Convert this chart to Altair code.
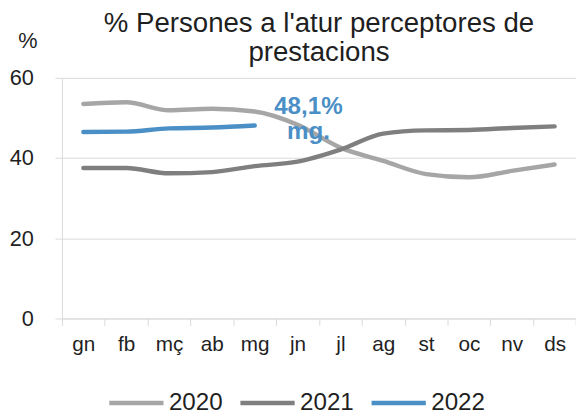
import altair as alt
import pandas as pd

months = ["gn", "fb", "mç", "ab", "mg", "jn", "jl", "ag", "st", "oc", "nv", "ds"]
years = ["2020", "2021", "2022"]
v2020 = [53.5, 53.9, 51.9, 52.3, 51.6, 48.3, 42.6, 39.3, 36.0, 35.2, 36.8, 38.4]
v2021 = [37.5, 37.5, 36.2, 36.5, 38.0, 39.1, 42.1, 46.1, 46.9, 47.0, 47.5, 47.9]
v2022 = [46.5, 46.6, 47.4, 47.6, 48.1]
y_ticks = [0, 20, 40, 60]
title_lines = ["% Persones a l'atur  perceptores de", "prestacions"]
note_lines = ["48,1%", "mg."]
note_month = ["jn"]
note_value = [50.9]

colors = ["#A6A6A6", "#7F7F7F", "#4A8FC6"]
widths = [4.5, 4.5, 7]
BLUE = "#4A8FC6"
TXT = "#1f1f1f"
GRID = "#D9D9D9"
FONT = "Liberation Sans"

rows = []
for yr, vals in zip(years, [v2020, v2021, v2022]):
    for m, v in zip(months, vals):
        rows.append({"mes": m, "any": yr, "valor": v})
df = pd.DataFrame(rows)
note_df = pd.DataFrame({"mes": note_month, "valor": note_value})

x_enc = alt.X(
    "mes:N",
    sort=months,
    scale=alt.Scale(type="band", domain=months, paddingInner=0, paddingOuter=0),
    axis=alt.Axis(
        title=None, tickBand="extent", labelAngle=0, labelFontSize=21, labelColor=TXT,
        tickSize=7, tickColor=GRID, domainColor=GRID, labelPadding=8, grid=False,
    ),
)
y_enc = alt.Y(
    "valor:Q",
    scale=alt.Scale(domain=[0, 60], nice=False, zero=True),
    axis=alt.Axis(
        values=y_ticks, title="%", titleAngle=0, titleX=-35, titleY=-31,
        titleAlign="center", titleBaseline="alphabetic", titleFontSize=22,
        titleFontWeight="normal", titleColor=TXT, labelFontSize=22, labelColor=TXT,
        tickSize=7, tickColor=GRID, domainColor=GRID, gridColor=GRID, labelPadding=22,
    ),
)

lines = alt.Chart(df).mark_line(interpolate="monotone", strokeCap="round", strokeJoin="round").encode(
    x=x_enc,
    y=y_enc,
    color=alt.Color("any:O", scale=alt.Scale(domain=years, range=colors), legend=alt.Legend(title=None)),
    strokeWidth=alt.StrokeWidth("any:O", scale=alt.Scale(domain=years, range=widths), legend=alt.Legend(title=None)),
)

note = alt.Chart(note_df).mark_text(
    font=FONT, fontSize=24.5, fontWeight="bold", color=BLUE, align="center",
    baseline="alphabetic", lineHeight=25, dx=11,
).encode(
    x=alt.X("mes:N", sort=months),
    y=alt.Y("valor:Q"),
    text=alt.value(note_lines),
)

chart = alt.layer(lines, note).properties(
    width=521.3,
    height=244,
    title=alt.TitleParams(
        text=title_lines, fontSize=28, font=FONT, fontWeight="normal", color=TXT,
        anchor="middle", lineHeight=30, offset=-38,
    ),
    autosize=alt.AutoSizeParams(type="none"),
    padding={"left": 54.7, "top": 68, "right": 0, "bottom": 92},
).configure(
    font=FONT,
).configure_view(
    stroke=None,
).configure_legend(
    orient="none", legendX=45.5, legendY=299.5, direction="horizontal",
    symbolType="stroke", symbolSize=3025, labelFontSize=24.5, labelColor=TXT,
    labelOffset=3, columnPadding=8, padding=0, labelFont=FONT,
)

chart.save("out.html", embed_options={"renderer": "svg", "actions": False})
